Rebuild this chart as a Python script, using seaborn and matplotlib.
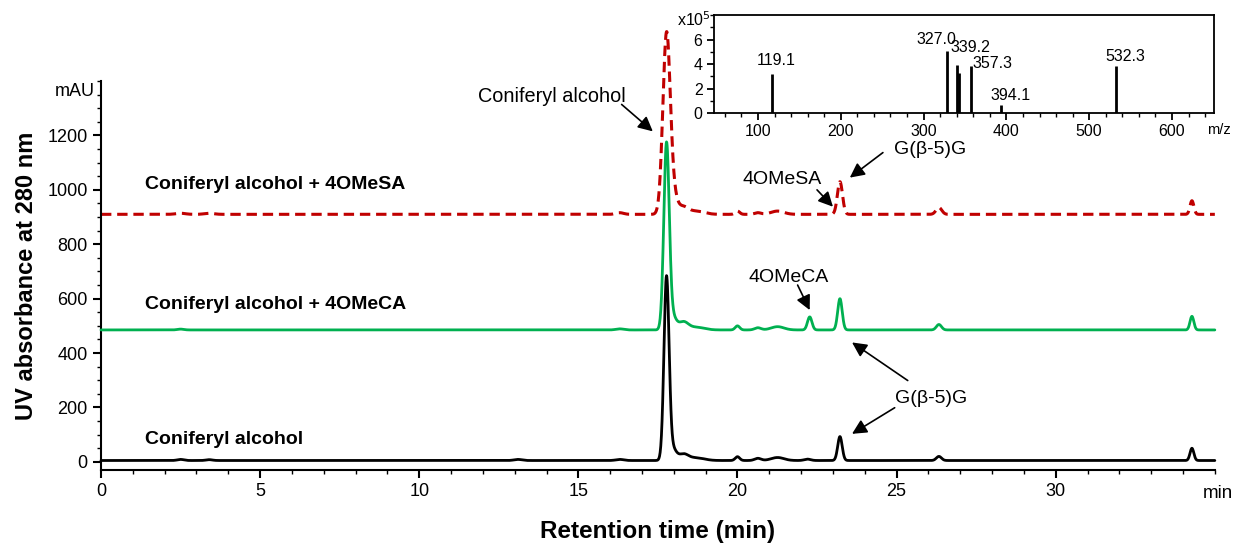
import numpy as np
import pandas as pd
import matplotlib
matplotlib.use("Agg")
import matplotlib.pyplot as plt
from matplotlib.ticker import MultipleLocator
import seaborn as sns

# ---------------- data ----------------
# peak tables: retention time (min), height (mAU), width sigma (min)
black_rt = [2.5, 3.4, 13.1, 16.3, 17.77, 17.95, 18.3, 18.7, 20.0, 20.64, 21.26, 22.2, 23.22, 26.33, 34.28]
black_h = [4, 3, 4, 4, 665, 45, 22, 10, 14, 8, 11, 5, 88, 15, 45]
black_w = [0.1, 0.1, 0.12, 0.12, 0.08, 0.12, 0.15, 0.25, 0.07, 0.1, 0.2, 0.1, 0.07, 0.08, 0.06]
black_base = 5

green_rt = [2.5, 16.3, 17.77, 17.95, 18.3, 18.7, 20.0, 20.64, 21.26, 22.27, 23.22, 26.33, 34.28]
green_h = [3, 4, 675, 50, 28, 10, 15, 8, 12, 48, 115, 20, 50]
green_w = [0.1, 0.12, 0.085, 0.12, 0.15, 0.25, 0.07, 0.1, 0.2, 0.07, 0.07, 0.08, 0.06]
green_base = 485

red_rt = [2.5, 3.4, 16.3, 17.77, 17.97, 18.3, 18.7, 20.0, 20.64, 21.26, 23.22, 26.33, 34.28]
red_h = [4, 4, 6, 650, 70, 25, 12, 12, 6, 12, 120, 25, 50]
red_w = [0.15, 0.15, 0.12, 0.115, 0.13, 0.15, 0.25, 0.07, 0.1, 0.2, 0.08, 0.09, 0.06]
red_base = 910

series_labels = ["Coniferyl alcohol + 4OMeSA", "Coniferyl alcohol + 4OMeCA", "Coniferyl alcohol"]

# inset mass spectrum
ms_mz = [117.5, 328.0, 340.6, 342.6, 356.8, 392.9, 532.3]
ms_int = [3.2, 5.04, 3.96, 3.3, 3.8, 0.68, 3.8]
ms_labels = ["119.1", "327.0", "339.2", None, "357.3", "394.1", "532.3"]

# ---------------- build traces ----------------
t = np.linspace(0, 35, 3501)

def trace(base, rts, hs, ws):
    y = np.full_like(t, float(base))
    for r, h, w in zip(rts, hs, ws):
        y += h * np.exp(-0.5 * ((t - r) / w) ** 2)
    return y

df = pd.DataFrame({
    "time": t,
    "black": trace(black_base, black_rt, black_h, black_w),
    "green": trace(green_base, green_rt, green_h, green_w),
    "red": trace(red_base, red_rt, red_h, red_w),
})

# ---------------- figure ----------------
sns.set_style("ticks")
plt.rcParams["font.family"] = ["Liberation Sans", "DejaVu Sans"]
plt.rcParams.update({"text.color": "black", "axes.labelcolor": "black",
                     "xtick.color": "black", "ytick.color": "black",
                     "axes.edgecolor": "black"})

fig = plt.figure(figsize=(12.39, 5.44), dpi=100)
ax = fig.add_axes([0.0815, 0.136, 0.899, 0.715])

sns.lineplot(data=df, x="time", y="red", ax=ax, color="#C00000", lw=2.2,
             linestyle=(0, (3.4, 1.9)), zorder=2, clip_on=False)
sns.lineplot(data=df, x="time", y="green", ax=ax, color="#00B050", lw=2.0, zorder=3, clip_on=False)
sns.lineplot(data=df, x="time", y="black", ax=ax, color="black", lw=2.0, zorder=4, clip_on=False)

ax.set_xlim(0, 35)
ax.set_ylim(-30, 1400)
ax.set_xticks([0, 5, 10, 15, 20, 25, 30])
ax.xaxis.set_minor_locator(MultipleLocator(1))
ax.set_yticks([0, 200, 400, 600, 800, 1000, 1200])
ax.yaxis.set_minor_locator(MultipleLocator(50))
ax.tick_params(axis="both", which="major", labelsize=13, length=6, width=1.5, direction="out")
ax.tick_params(axis="both", which="minor", length=3, width=1.0, direction="out")
for s in ["top", "right"]:
    ax.spines[s].set_visible(False)
for s in ["left", "bottom"]:
    ax.spines[s].set_linewidth(1.5)

ax.set_xlabel("Retention time (min)", fontsize=17.5, fontweight="bold", labelpad=14)
ax.set_ylabel("UV absorbance at 280 nm", fontsize=17, fontweight="bold", labelpad=7)
ax.text(-0.2, 1363, "mAU", fontsize=13, ha="right", va="center")
ax.text(35.1, -118, "min", fontsize=13.5, ha="center", va="center", clip_on=False)

# series labels
for lab, yv in zip(series_labels, [1019, 580, 81]):
    ax.text(1.39, yv, lab, fontsize=14, fontweight="bold", ha="left", va="center")

arrow = dict(arrowstyle="-|>", color="black", lw=1.2, mutation_scale=22, shrinkA=0, shrinkB=0)

ax.annotate("", xy=(17.34, 1215), xytext=(16.36, 1314), arrowprops=arrow, annotation_clip=False)
ax.text(14.16, 1344, "Coniferyl alcohol", fontsize=14.3, ha="center", va="center")

ax.annotate("", xy=(23.53, 1045), xytext=(24.57, 1137), arrowprops=arrow, annotation_clip=False)
ax.text(26.05, 1148, "G(β-5)G", fontsize=14, ha="center", va="center")

ax.annotate("", xy=(23.0, 938), xytext=(22.5, 1000), arrowprops=arrow)
ax.text(21.39, 1038, "4OMeSA", fontsize=14, ha="center", va="center")

ax.annotate("", xy=(22.27, 558), xytext=(21.89, 650), arrowprops=arrow)
ax.text(21.62, 676, "4OMeCA", fontsize=14, ha="center", va="center")

ax.annotate("", xy=(23.6, 439), xytext=(25.35, 299), arrowprops=arrow)
ax.annotate("", xy=(23.6, 103), xytext=(24.94, 199), arrowprops=arrow)
ax.text(26.1, 233, "G(β-5)G", fontsize=14, ha="center", va="center")

# ---------------- inset ----------------
ins = fig.add_axes([0.576, 0.7923, 0.404, 0.180])
ins.set_facecolor("white")
ins.vlines(ms_mz, 0, ms_int, color="black", lw=2.0)
ins.set_xlim(46.5, 651)
ins.set_ylim(0, 8)
ins.set_xticks([100, 200, 300, 400, 500, 600])
ins.xaxis.set_minor_locator(MultipleLocator(20))
ins.set_yticks([0, 2, 4, 6])
ins.yaxis.set_minor_locator(MultipleLocator(1))
ins.tick_params(axis="both", which="major", labelsize=11.5, length=5, width=1.3, direction="out", pad=3)
ins.tick_params(axis="both", which="minor", length=3, width=1.0, direction="out")
for s in ins.spines.values():
    s.set_linewidth(1.3)

# label placement (m/z position, height, alignment) per peak label
lab_pos = {"119.1": (121.6, 3.7, "center"), "327.0": (315.6, 5.4, "center"),
           "339.2": (356.8, 4.7, "center"), "357.3": (359.5, 3.45, "left"),
           "394.1": (405.0, 0.8, "center"), "532.3": (543.5, 4.0, "center")}
for lab in ms_labels:
    if lab is None:
        continue
    x0, y0, ha = lab_pos[lab]
    ins.text(x0, y0, lab, fontsize=11.5, ha=ha, va="bottom")
ins.text(-0.005, 7.6, "x10$^5$", fontsize=11.5, ha="right", va="center", transform=ins.get_yaxis_transform())
ins.text(0.985, -0.1, "m/z", fontsize=10.5, ha="left", va="top", transform=ins.transAxes)

fig.savefig("out.png", dpi=100)
